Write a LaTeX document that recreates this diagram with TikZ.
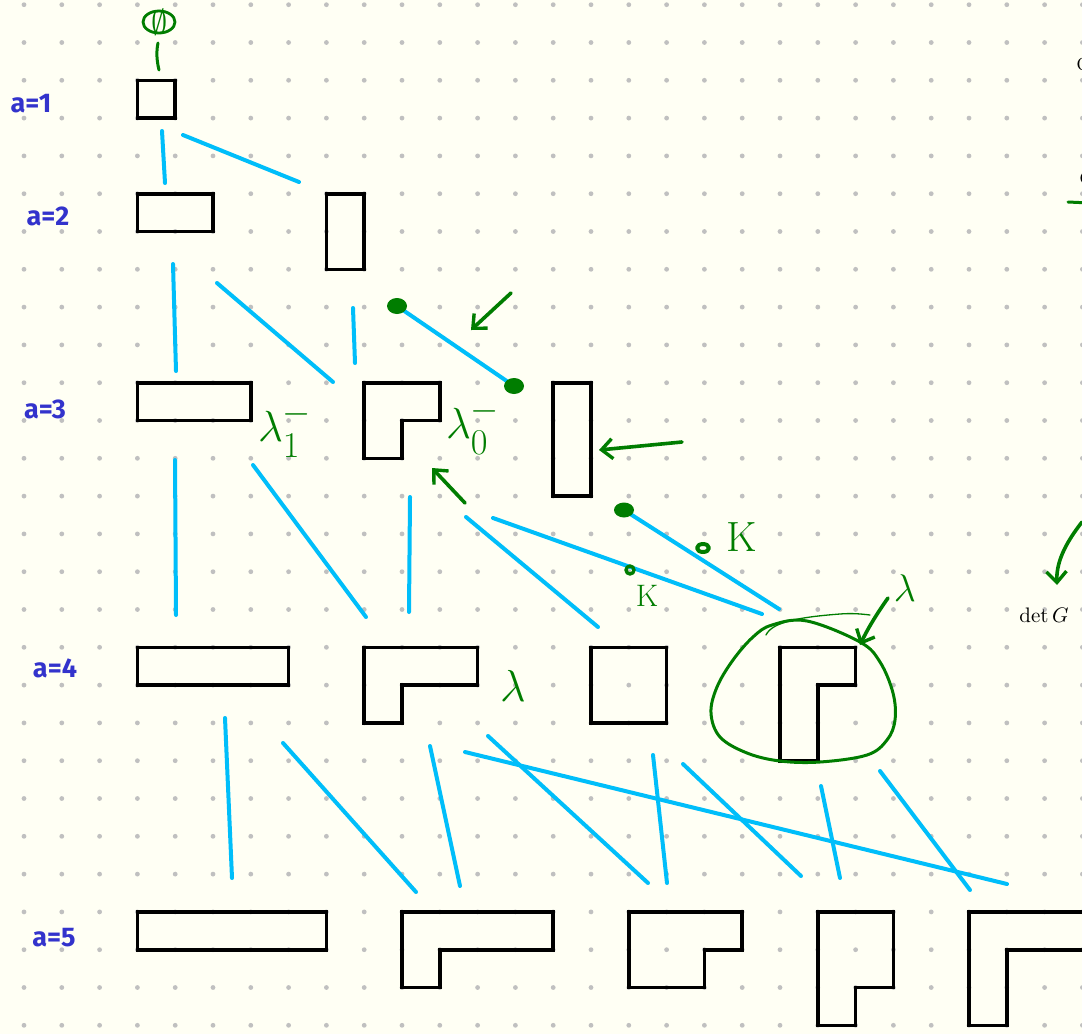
\documentclass[tikz,border=0pt]{standalone}
\usepackage{fontspec}
\usepackage{amssymb}
\usetikzlibrary{arrows.meta}
\newfontfamily\handfont{Fira Sans}
\definecolor{paper}{RGB}{255,255,244}
\definecolor{dotgray}{RGB}{192,192,192}
\definecolor{edgeblue}{RGB}{0,190,250}
\definecolor{pengreen}{RGB}{0,125,0}
\definecolor{labelblue}{RGB}{51,51,204}
\tikzset{
  ybox/.style={draw=black, line width=3.6pt, line join=miter},
  edge/.style={draw=edgeblue, line width=4pt, line cap=round},
  pen/.style={draw=pengreen, line width=3.6pt, line cap=round, line join=round},
  penarrow/.style={pen, -{Straight Barb[length=11pt,width=20pt,line width=3.4pt]}},
  alabel/.style={text=labelblue, font=\handfont\bfseries\fontsize{27}{29}\selectfont},
  glabel/.style={text=pengreen, font=\Huge},
}
\begin{document}
\begin{tikzpicture}[x=1pt,y=-1pt]
\useasboundingbox (0,0) rectangle (1082,1034);
\fill[paper] (0,0) rectangle (1082,1034);
\clip (0,0) rectangle (1082,1034);
% dot grid
\foreach \i in {0,...,28} {
  \foreach \j in {0,...,27} {
    \fill[dotgray] ({24+37.8*\i},{4.7+37.8*\j}) circle (2.4);
  }
}
% level labels
\node[alabel] (l1) at (31,104) {a=1};
\node[alabel] (l2) at (48,216) {a=2};
\node[alabel] (l3) at (45,409) {a=3};
\node[alabel] (l4) at (55,668) {a=4};
\node[alabel] (l5) at (54,938) {a=5};
% Young diagrams
\draw[ybox] (137.4,80.3) rectangle (175.2,118.1);
\draw[ybox] (137.4,193.7) rectangle (213,231.5);
\draw[ybox] (326.4,193.7) rectangle (364.2,269.3);
\draw[ybox] (137.4,382.7) rectangle (250.8,420.5);
\draw[ybox] (364.2,382.7) -- (439.8,382.7) -- (439.8,420.5) -- (402,420.5) -- (402,458.3) -- (364.2,458.3) -- cycle;
\draw[ybox] (553.2,382.7) rectangle (591,496.1);
\draw[ybox] (137.4,647.3) rectangle (288.6,685.1);
\draw[ybox] (364.2,647.3) -- (477.6,647.3) -- (477.6,685.1) -- (402,685.1) -- (402,722.9) -- (364.2,722.9) -- cycle;
\draw[ybox] (591,647.3) rectangle (666.6,722.9);
\draw[ybox] (780,647.3) -- (855.6,647.3) -- (855.6,685.1) -- (817.8,685.1) -- (817.8,760.7) -- (780,760.7) -- cycle;
\draw[ybox] (137.4,911.9) rectangle (326.4,949.7);
\draw[ybox] (402,911.9) -- (553.2,911.9) -- (553.2,949.7) -- (439.8,949.7) -- (439.8,987.5) -- (402,987.5) -- cycle;
\draw[ybox] (628.8,911.9) -- (742.2,911.9) -- (742.2,949.7) -- (704.4,949.7) -- (704.4,987.5) -- (628.8,987.5) -- cycle;
\draw[ybox] (817.8,911.9) -- (893.4,911.9) -- (893.4,987.5) -- (855.6,987.5) -- (855.6,1025.3) -- (817.8,1025.3) -- cycle;
\draw[ybox] (969,911.9) -- (1100,911.9) -- (1100,949.7) -- (1006.8,949.7) -- (1006.8,1025.3) -- (969,1025.3) -- cycle;
% blue edges
\draw[edge] (162,131) -- (165,183);
\draw[edge] (183,135) -- (299,182);
\draw[edge] (173,264) -- (176,371);
\draw[edge] (217,283) -- (333,382);
\draw[edge] (353,308) -- (355,363);
\draw[edge] (397,306) -- (514,386);
\draw[edge] (175,460) -- (176,615);
\draw[edge] (253,465) -- (366,617);
\draw[edge] (410,497) -- (409,612);
\draw[edge] (466,517) -- (598,627);
\draw[edge] (493,518) -- (762,614);
\draw[edge] (624,510) -- (779,609);
\draw[edge] (225,718) -- (232,878);
\draw[edge] (283,743) -- (416,892);
\draw[edge] (430,746) -- (460,886);
\draw[edge] (488,736) -- (648,883);
\draw[edge] (465,752) -- (1007,884);
\draw[edge] (653,755) -- (667,883);
\draw[edge] (683,764) -- (801,876);
\draw[edge] (821,786) -- (840,878);
\draw[edge] (880,771) -- (970,890);
% green annotations
\draw[pen, line width=2.8pt] (159,22) ellipse [x radius=16, y radius=11];
\node[glabel, scale=1.3] (empty) at (160,22) {$\emptyset$};
\draw[pen, line width=3pt] (158,43) .. controls (156,52) and (157,62) .. (159,70);
% dots on edges
\fill[pengreen] (397,306) ellipse [x radius=10, y radius=8];
\fill[pengreen] (514,386) ellipse [x radius=10, y radius=8];
\fill[pengreen] (624,510) ellipse [x radius=10, y radius=7.5];
\draw[pen, line width=4pt] (703,548) ellipse [x radius=6, y radius=4];
\draw[pen, line width=3.4pt] (630,570) ellipse [x radius=4, y radius=4];
% arrows
\draw[penarrow] (511,293) -- (471,330);
\draw[penarrow] (682,442) -- (599,450);
\draw[penarrow] (465,503) -- (432,468);
\draw[penarrow] (888,598) .. controls (878,612) and (868,628) .. (860,645);
\draw[penarrow] (1082,522) .. controls (1068,540) and (1056,560) .. (1057,585);
% lambda labels
\node[glabel, scale=1.75] (lam1) at (285,430) {$\lambda_1^-$};
\node[glabel, scale=1.75] (lam0) at (473,427) {$\lambda_0^-$};
\node[glabel, scale=1.8] (lam) at (513,686) {$\lambda$};
\node[glabel, scale=1.55] (lamtop) at (905,588) {$\lambda$};
\node[glabel, scale=1.7] (Kbig) at (742,537) {K};
\node[glabel, scale=1.25] (Ksmall) at (647,596) {K};
% encircling
\draw[pen, line width=3pt] plot[smooth cycle, tension=0.6] coordinates {
 (807,621) (860,642) (880,662) (893,693) (895,720) (887,740) (867,755)
 (820,762) (780,761) (747,753) (720,737) (711,713) (717,687) (733,660) (753,637) (772,625)};
\draw[pen, line width=1.3pt] (766,635) .. controls (772,622) and (800,617) .. (840,614) .. controls (852,613) and (862,614) .. (870,615);
% right margin text (cut off in the reference)
\node[anchor=base west, font=\fontsize{28}{30}\selectfont] (c1) at (1073,70) {c};
\node[anchor=base west, font=\fontsize{28}{30}\selectfont] (c2) at (1076,184) {c};
\draw[pen, line width=3pt] (1068,202) -- (1090,203);
\node[anchor=base west, inner sep=0pt, font=\normalsize, scale=2.1] (detG) at (1019,622) {$\det G$};
\end{tikzpicture}
\end{document}
